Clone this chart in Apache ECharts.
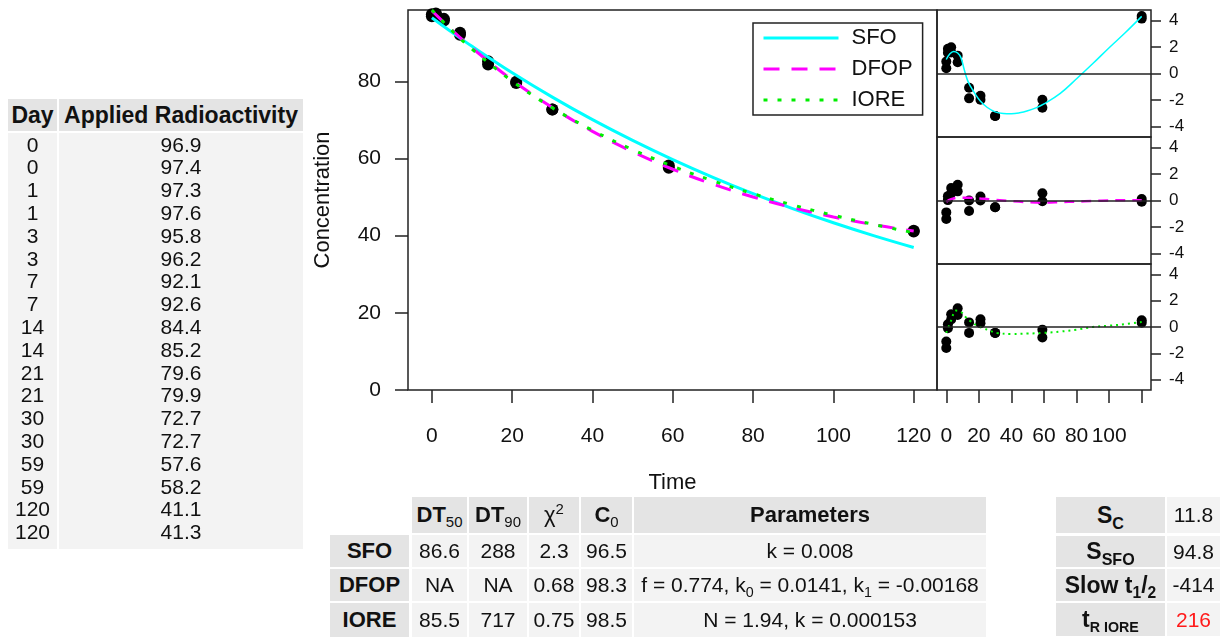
<!DOCTYPE html>
<html><head><meta charset="utf-8">
<script src="https://cdn.jsdelivr.net/npm/echarts@6/dist/echarts.min.js"></script>
<style>
html,body{margin:0;padding:0;background:#fff;}
#chart{position:absolute;left:0;top:0;width:1232px;height:637px;}
.cell{position:absolute;display:flex;align-items:center;justify-content:center;font-family:'Liberation Sans',Arial,sans-serif;color:#111;white-space:nowrap;box-sizing:border-box;font-size:21px;}
.b{font-weight:bold;}
.n{font-weight:normal;}
sub,sup{line-height:0;font-size:0.68em;}
sub{vertical-align:-0.35em;}
sup{vertical-align:0.55em;}
</style></head><body>
<div id="chart"></div>
<div id="tables"></div>
<script>
// ---------- data ----------
const days = [0,0,1,1,3,3,7,7,14,14,21,21,30,30,59,59,120,120];
const applied = [96.9,97.4,97.3,97.6,95.8,96.2,92.1,92.6,84.4,85.2,79.6,79.9,72.7,72.7,57.6,58.2,41.1,41.3];

const fitTimes = [0,5,10,20,30,40,50,60,70,80,90,100,110,120];
const sfoFit  = [96.5,92.72,89.08,82.23,75.91,70.07,64.69,59.71,55.12,50.88,46.97,43.36,40.03,36.95];
const dfopFit = [98.3,93.31,88.67,80.36,73.21,67.05,61.76,57.22,53.35,50.04,47.23,44.86,42.86,41.19];
const ioreFit = [98.5,93.16,88.35,80.06,73.15,67.31,62.31,57.99,54.21,50.88,47.93,45.29,42.92,40.78];

const sfoRes  = [0.4,0.9,1.57,1.87,1.59,1.99,0.85,1.35,-1.88,-1.08,-1.98,-1.68,-3.21,-3.21,-2.59,-1.99,4.15,4.35];
const dfopRes = [-1.4,-0.9,0.03,0.33,0.54,0.94,0.69,1.19,-0.8,0.0,0.0,0.3,-0.51,-0.51,-0.05,0.55,-0.09,0.11];
const ioreRes = [-1.6,-1.1,-0.09,0.21,0.57,0.97,0.92,1.42,-0.45,0.35,0.29,0.59,-0.45,-0.45,-0.8,-0.2,0.32,0.52];

const sfoSmoothT = [0,2,4.5,7,9,11,13,15,18,21,25,30,35,40,45,50,55,60,70,80,90,100,110,120];
const sfoSmoothV = [1.06,1.45,1.66,1.55,1.2,0.3,-0.5,-1.0,-1.6,-2.1,-2.55,-2.9,-3.02,-3.04,-2.97,-2.82,-2.6,-2.3,-1.5,-0.4,0.75,1.95,3.1,4.32];
const dfopSmoothT = [0,3,7,14,21,30,40,50,60,70,80,90,100,110,120];
const dfopSmoothV = [-0.1,0.1,0.2,0.2,0.15,0.05,-0.05,-0.12,-0.15,-0.12,-0.08,-0.04,0,0.02,0.02];
const ioreSmoothT = [0,3,6,9,12,15,19,23,27,31,40,50,60,70,80,90,100,110,120];
const ioreSmoothV = [-0.45,0.5,1.25,1.15,0.75,0.43,0.1,-0.1,-0.3,-0.45,-0.53,-0.5,-0.45,-0.35,-0.2,0.0,0.1,0.22,0.38];

const timeTicks = [0,20,40,60,80,100,120];
const resTimeLabels = [0,20,40,60,80,100];
const concTicks = [0,20,40,60,80];
const resTicks = [-4,-2,0,2,4];
const modelNames = ['SFO','DFOP','IORE'];

// table contents
const leftHeader = ['Day','Applied Radioactivity'];
const fitHeader = ['DT<sub class="n">50</sub>','DT<sub class="n">90</sub>','<span class="n">&chi;</span><sup class="n">2</sup>','C<sub class="n">0</sub>','Parameters'];
const dt50 = ['86.6','NA','85.5'];
const dt90 = ['288','NA','717'];
const chi2 = ['2.3','0.68','0.75'];
const c0 = ['96.5','98.3','98.5'];
const params = ['k = 0.008','f = 0.774, k<sub>0</sub> = 0.0141, k<sub>1</sub> = -0.00168','N = 1.94, k = 0.000153'];
const statLabels = ['S<sub style="font-size:0.7em">C</sub>','S<sub style="font-size:0.7em">SFO</sub>','Slow t<sub>1</sub>/<sub>2</sub>','t<sub style="font-size:0.62em">R IORE</sub>'];
const statValues = ['11.8','94.8','-414','216'];

// ---------- tables (HTML) ----------
const T = document.getElementById('tables');
function cell(x,y,w,h,bg,html,cls,extra){
  const d=document.createElement('div');
  d.className='cell '+(cls||'');
  d.style.left=x+'px';d.style.top=y+'px';d.style.width=w+'px';d.style.height=h+'px';
  if(bg) d.style.background=bg;
  if(extra) Object.assign(d.style,extra);
  d.innerHTML='<span>'+html+'</span>';T.appendChild(d);
}
const HB='#e4e4e4', BB='#f3f3f3';
// left table
cell(8,99,49,32,HB,leftHeader[0],'b',{fontSize:'23px'});
cell(59,99,244,32,HB,leftHeader[1],'b',{fontSize:'23px'});
cell(8,133,49,416,BB,'');
cell(59,133,244,416,BB,'');
days.forEach((d,i)=>{
  const y=133.6+i*22.8;
  cell(8,y,49,22.8,null,String(d),'',{lineHeight:'22.8px'});
  cell(59,y,244,22.8,null,applied[i].toFixed(1),'',{lineHeight:'22.8px'});
});
// fit table
const fcols=[[412,55],[469,58],[529,50],[581,51],[634,352]];
const frows=[[535,32],[569,32],[603,34]];
fitHeader.forEach((h,j)=>cell(fcols[j][0],497,fcols[j][1],36,HB,h,'b',{fontSize:'22px'}));
modelNames.forEach((m,i)=>{
  const [y,h]=frows[i];
  cell(330,y,79,h,HB,m,'b',{fontSize:'22px'});
  [dt50[i],dt90[i],chi2[i],c0[i],params[i]].forEach((v,j)=>cell(fcols[j][0],y,fcols[j][1],h,BB,v,''));
});
// stats table
const srows=[[497,36],[536,31],[569,32],[603,33]];
statLabels.forEach((l,i)=>{
  const [y,h]=srows[i];
  cell(1056,y,109,h,HB,l,'b',{fontSize:'23px'});
  cell(1167,y,53,h,BB,statValues[i],'',i===3?{color:'#ff1a1a'}:null);
});

// ---------- chart ----------
const FONT="'Liberation Sans', Arial, sans-serif";
const TXT='#111', AX='#222';
const zip=(a,b)=>a.map((v,i)=>[v,b[i]]);
const chart=echarts.init(document.getElementById('chart'),null,{renderer:'canvas'});
const resGrid=(top,h)=>({left:937,top:top,width:214,height:h,show:true,borderColor:AX,borderWidth:1.5,backgroundColor:'transparent'});
const resX=(gi,showTicks)=>({gridIndex:gi,type:'value',min:-5.7,max:125.7,
  axisLine:{show:false,onZero:false},splitLine:{show:false},
  axisTick:{show:showTicks,length:13,lineStyle:{color:AX,width:1.5},customValues:timeTicks},
  axisLabel:{show:showTicks,customValues:resTimeLabels,margin:36,fontSize:21,color:TXT,fontFamily:FONT}});
const resY=(gi)=>({gridIndex:gi,type:'value',position:'right',min:-4.8,max:4.8,
  axisLine:{show:false,onZero:false},splitLine:{show:false},
  axisTick:{show:true,length:10,lineStyle:{color:AX,width:1.5},customValues:resTicks},
  axisLabel:{customValues:resTicks,margin:18,fontSize:17,color:TXT,fontFamily:FONT,align:'left'}});
const zeroLine={silent:true,symbol:'none',label:{show:false},lineStyle:{color:AX,width:1.5,type:'solid'},data:[{yAxis:0}]};
const option={
  animation:false,
  backgroundColor:'#fff',
  grid:[
    {left:408,top:10,width:529,height:380,show:true,borderColor:AX,borderWidth:1.5,backgroundColor:'transparent'},
    resGrid(10,127),resGrid(137,127),resGrid(264,126)
  ],
  legend:{
    data:modelNames,left:753,top:23,orient:'vertical',
    itemWidth:75,itemHeight:20,itemGap:9,padding:[4,10,4,9],
    borderColor:AX,borderWidth:1.5,backgroundColor:'#fff',
    itemStyle:{opacity:0},
    lineStyle:{width:3},
    textStyle:{fontSize:22,color:TXT,fontFamily:FONT,padding:[0,0,0,8]}
  },
  xAxis:[
    {gridIndex:0,type:'value',min:-5.95,max:125.8,
     axisLine:{show:false,onZero:false},splitLine:{show:false},
     axisTick:{show:true,length:13,lineStyle:{color:AX,width:1.5},customValues:timeTicks},
     axisLabel:{customValues:timeTicks,margin:36,fontSize:21,color:TXT,fontFamily:FONT},
     name:'Time',nameLocation:'middle',nameGap:82,nameTextStyle:{fontSize:22,color:TXT,fontFamily:FONT}},
    resX(1,false),resX(2,false),resX(3,true)
  ],
  yAxis:[
    {gridIndex:0,type:'value',min:0,max:98.5,
     axisLine:{show:false,onZero:false},splitLine:{show:false},
     axisTick:{show:true,length:13,lineStyle:{color:AX,width:1.5},customValues:concTicks},
     axisLabel:{customValues:concTicks,margin:27,fontSize:21,color:TXT,fontFamily:FONT},
     name:'Concentration',nameLocation:'middle',nameGap:74,nameTextStyle:{fontSize:22,color:TXT,fontFamily:FONT}},
    resY(1),resY(2),resY(3)
  ],
  series:[
    {name:'Observed',type:'scatter',xAxisIndex:0,yAxisIndex:0,data:zip(days,applied),symbol:'circle',symbolSize:12,itemStyle:{color:'#000',opacity:1},z:2},
    {name:'SFO',type:'line',xAxisIndex:0,yAxisIndex:0,data:zip(fitTimes,sfoFit),smooth:0.4,symbol:'none',lineStyle:{color:'#00ffff',width:3},itemStyle:{color:'#00ffff'},z:3},
    {name:'DFOP',type:'line',xAxisIndex:0,yAxisIndex:0,data:zip(fitTimes,dfopFit),smooth:0.4,symbol:'none',lineStyle:{color:'#ff00ff',width:3,type:[16,12]},itemStyle:{color:'#ff00ff'},z:4},
    {name:'IORE',type:'line',xAxisIndex:0,yAxisIndex:0,data:zip(fitTimes,ioreFit),smooth:0.4,symbol:'none',lineStyle:{color:'#00ee00',width:3,type:[4,10]},itemStyle:{color:'#00ee00'},z:5},

    {name:'SFO residuals',type:'scatter',xAxisIndex:1,yAxisIndex:1,data:zip(days,sfoRes),symbolSize:10,itemStyle:{color:'#000',opacity:1},markLine:zeroLine,z:2},
    {name:'SFO residual trend',type:'line',xAxisIndex:1,yAxisIndex:1,data:zip(sfoSmoothT,sfoSmoothV),smooth:0.4,symbol:'none',lineStyle:{color:'#00ffff',width:1.5},z:3},
    {name:'DFOP residuals',type:'scatter',xAxisIndex:2,yAxisIndex:2,data:zip(days,dfopRes),symbolSize:10,itemStyle:{color:'#000',opacity:1},markLine:zeroLine,z:2},
    {name:'DFOP residual trend',type:'line',xAxisIndex:2,yAxisIndex:2,data:zip(dfopSmoothT,dfopSmoothV),smooth:0.4,symbol:'none',lineStyle:{color:'#ff00ff',width:2.5,type:[10,7]},z:3},
    {name:'IORE residuals',type:'scatter',xAxisIndex:3,yAxisIndex:3,data:zip(days,ioreRes),symbolSize:10,itemStyle:{color:'#000',opacity:1},markLine:zeroLine,z:2},
    {name:'IORE residual trend',type:'line',xAxisIndex:3,yAxisIndex:3,data:zip(ioreSmoothT,ioreSmoothV),smooth:0.4,symbol:'none',lineStyle:{color:'#00ee00',width:2,type:[2,4]},z:3}
  ]
};
chart.setOption(option);
</script>
</body></html>
